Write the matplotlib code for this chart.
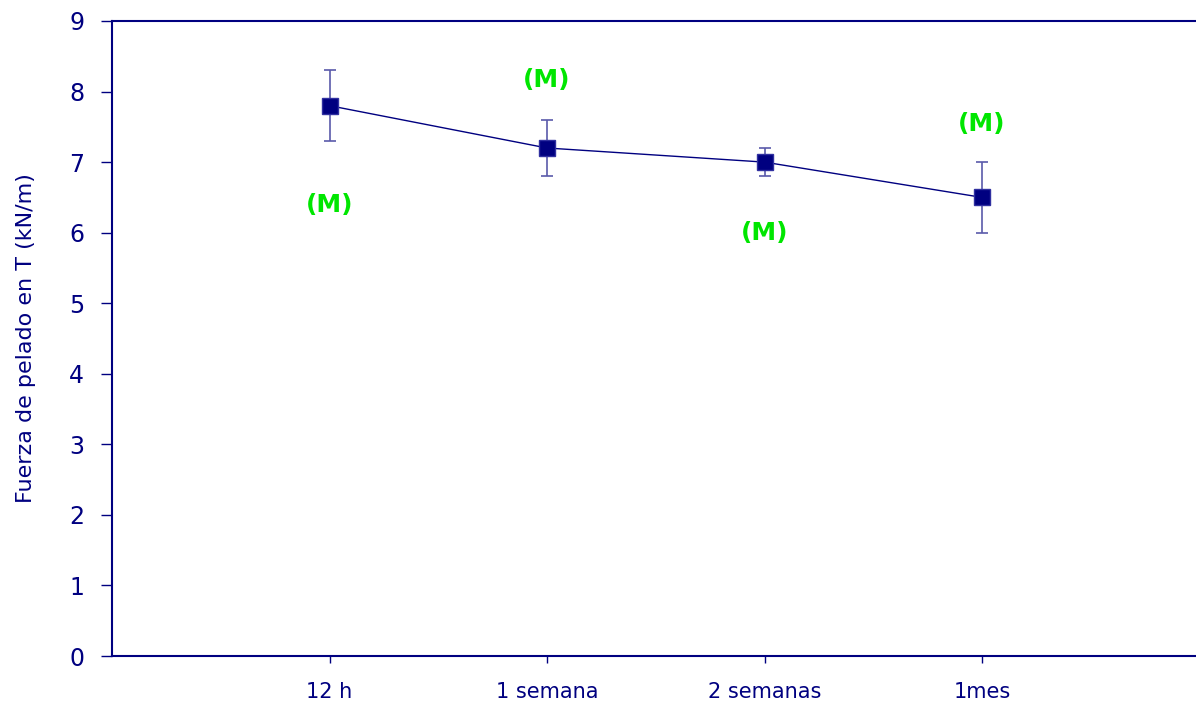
import matplotlib
matplotlib.use("Agg")
import matplotlib.pyplot as plt

categories = ["12 h", "1 semana", "2 semanas", "1mes"]
values = [7.8, 7.2, 7.0, 6.5]
err_low = [0.5, 0.4, 0.2, 0.5]
err_high = [0.5, 0.4, 0.2, 0.5]
label_text = ["(M)", "(M)", "(M)", "(M)"]
label_y = [6.39, 8.16, 6.0, 7.54]
yticks = [0, 1, 2, 3, 4, 5, 6, 7, 8, 9]

navy = "#000080"
green = "#00e600"

fig = plt.figure(figsize=(11.96, 7.11), dpi=100)
ax = fig.add_axes([112/1196, 1 - 656/711, 1 - 112/1196, (656 - 21)/711])

x = list(range(1, len(categories) + 1))
ax.errorbar(x, values, yerr=[err_low, err_high], fmt="none", ecolor="#5a5aaa",
            elinewidth=1.2, capsize=4, capthick=1.2, zorder=2)
ax.plot(x, values, color=navy, lw=1.0, marker="s", markersize=11,
        markerfacecolor=navy, markeredgecolor="#3030a0", zorder=3)

for xi, yi, t in zip(x, label_y, label_text):
    ax.text(xi, yi, t, color=green, fontsize=18, fontweight="bold",
            ha="center", va="center")

ax.set_xlim(0, (1196 - 112) / 217.5)
ax.set_ylim(0, 9)
ax.set_xticks(x)
ax.set_xticklabels(categories, fontsize=15, color=navy)
ax.set_yticks(yticks)
ax.set_yticklabels([str(v) for v in yticks], fontsize=17, color=navy)
ax.tick_params(axis="x", length=5, width=1, color=navy, pad=14)
ax.tick_params(axis="y", length=8, width=1, color=navy, pad=12)
ax.set_ylabel("Fuerza de pelado en T (kN/m)", fontsize=16, color=navy, labelpad=24)

for s in ["left", "bottom", "top"]:
    ax.spines[s].set_color(navy)
    ax.spines[s].set_linewidth(1.5)
ax.spines["right"].set_visible(False)

fig.savefig("out.png", dpi=100)
